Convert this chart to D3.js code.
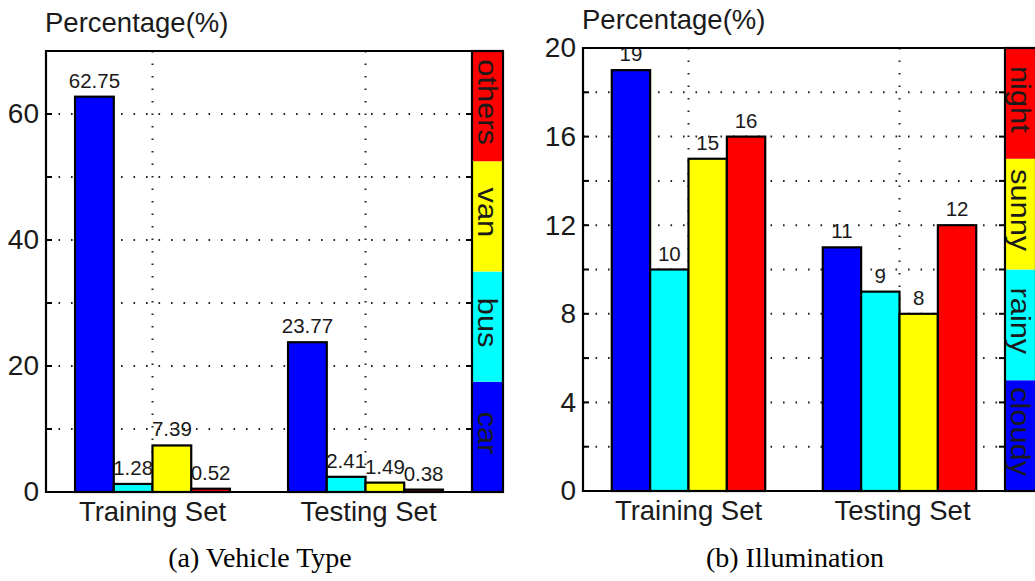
<!DOCTYPE html>
<html>
<head>
<meta charset="utf-8">
<script src="https://cdn.jsdelivr.net/npm/d3@7"></script>
<style>
  body { margin: 0; background: #fff; }
  svg text { font-family: "Liberation Sans", Arial, sans-serif; fill: #1a1a1a; }
  svg text.caption { font-family: "Liberation Serif", "Times New Roman", serif; fill: #000; }
</style>
</head>
<body>
<svg id="chart" width="1035" height="581"></svg>
<script>
// groups on the x axis
var groups = ["Training Set", "Testing Set"];

// (a) vehicle type
var vehicleTypes = ["car", "bus", "van", "others"];
var vehicleTrain = [62.75, 1.28, 7.39, 0.52];
var vehicleTest = [23.77, 2.41, 1.49, 0.38];
var vehicleTickLabels = [0, 20, 40, 60];
var vehicleGrid = [10, 20, 30, 40, 50, 60];

// (b) illumination
var illumTypes = ["cloudy", "rainy", "sunny", "night"];
var illumTrain = [19, 10, 15, 16];
var illumTest = [11, 9, 8, 12];
var illumTickLabels = [0, 4, 8, 12, 16, 20];
var illumGrid = [2, 4, 6, 8, 10, 12, 14, 16, 18];

var barColors = ["#0000ff", "#00ffff", "#ffff00", "#ff0000"];

var svg = d3.select("#chart");

// one panel: bars + grid + colorbar legend
function drawPanel(opt) {
	var x = d3.scaleLinear().domain([0.5, 2.5]).range([opt.left, opt.right]);
	var y = d3.scaleLinear().domain([0, opt.ymax]).range([opt.bottom, opt.top]);
	var g = svg.append("g");

	// matlab style grouped bars
	var n = opt.types.length;
	var groupW = n / (n + 1.5);
	var barW = groupW / n;
	var bars = [];
	[opt.train, opt.test].forEach(function (vals, gi) {
		vals.forEach(function (v, i) {
			bars.push({ x0: gi + 1 - groupW / 2 + i * barW, v: v, i: i });
		});
	});

	// dotted grid
	g.selectAll(".hgrid").data(opt.grid).enter().append("line")
		.attr("x1", opt.left).attr("x2", opt.right)
		.attr("y1", function (d) { return y(d); })
		.attr("y2", function (d) { return y(d); })
		.attr("stroke", "#222").attr("stroke-width", 2)
		.attr("stroke-dasharray", "1.6,10.9");
	g.selectAll(".vgrid").data([1, 2]).enter().append("line")
		.attr("x1", function (d) { return x(d); })
		.attr("x2", function (d) { return x(d); })
		.attr("y1", opt.top).attr("y2", opt.bottom)
		.attr("stroke", "#222").attr("stroke-width", 2)
		.attr("stroke-dasharray", "1.6,10.9");

	// bars
	g.selectAll(".bar").data(bars).enter().append("rect")
		.attr("x", function (d) { return x(d.x0); })
		.attr("width", function (d) { return x(d.x0 + barW) - x(d.x0); })
		.attr("y", function (d) { return y(d.v); })
		.attr("height", function (d) { return y(0) - y(d.v); })
		.attr("fill", function (d) { return barColors[d.i]; })
		.attr("stroke", "#000").attr("stroke-width", 2.2);

	// value labels
	g.selectAll(".val").data(bars).enter().append("text")
		.attr("x", function (d) { return x(d.x0 + barW / 2); })
		.attr("y", function (d) { return y(d.v) - 9; })
		.attr("text-anchor", "middle")
		.attr("font-size", 20.5)
		.text(function (d) { return d.v; });

	// inward ticks on left and right edges
	var tk = opt.grid.concat([0, opt.ymax]);
	g.selectAll(".tl").data(tk).enter().append("line")
		.attr("x1", opt.left).attr("x2", opt.left + 6)
		.attr("y1", function (d) { return y(d); }).attr("y2", function (d) { return y(d); })
		.attr("stroke", "#000").attr("stroke-width", 2);
	g.selectAll(".tr").data(tk).enter().append("line")
		.attr("x1", opt.right - 6).attr("x2", opt.right)
		.attr("y1", function (d) { return y(d); }).attr("y2", function (d) { return y(d); })
		.attr("stroke", "#000").attr("stroke-width", 2);

	// box
	g.append("path")
		.attr("d", "M" + opt.right + "," + opt.top + "H" + opt.left + "V" + opt.bottom + "H" + opt.right)
		.attr("fill", "none").attr("stroke", "#000").attr("stroke-width", 2.2);

	// y tick labels
	g.append("g")
		.attr("transform", "translate(" + opt.left + ",0)")
		.call(d3.axisLeft(y).tickValues(opt.labels).tickSize(0).tickPadding(7))
		.call(function (a) {
			a.select(".domain").remove();
			a.selectAll("text").attr("font-size", 28).attr("fill", "#1a1a1a")
				.style("font-family", "'Liberation Sans', Arial, sans-serif");
		});

	// group labels
	g.selectAll(".cat").data(groups).enter().append("text")
		.attr("x", function (d, i) { return x(i + 1) + (i ? 3 : 0); })
		.attr("y", opt.bottom + 29)
		.attr("text-anchor", "middle")
		.attr("font-size", 27.5)
		.text(function (d) { return d; });

	// axis title
	g.append("text")
		.attr("x", opt.left - 1).attr("y", opt.top - 19)
		.attr("font-size", 27.5)
		.text("Percentage(%)");

	// colorbar
	var seg = (opt.bottom - opt.top) / n;
	var cb = g.append("g");
	opt.types.forEach(function (t, i) {
		var y0 = opt.bottom - (i + 1) * seg;
		cb.append("rect")
			.attr("x", opt.right).attr("y", y0)
			.attr("width", opt.cbW).attr("height", seg)
			.attr("fill", barColors[i]);
		cb.append("text")
			.attr("transform", "translate(" + (opt.right + opt.cbW / 2) + "," + (y0 + seg / 2 - 4) + ") rotate(90) scale(1.1,1)")
			.attr("text-anchor", "middle")
			.attr("dy", "0.35em")
			.attr("font-size", 28)
			.attr("fill", "#000")
			.text(t);
	});
	cb.append("rect")
		.attr("x", opt.right).attr("y", opt.top)
		.attr("width", opt.cbW).attr("height", opt.bottom - opt.top)
		.attr("fill", "none").attr("stroke", "#000").attr("stroke-width", 2.2);

	// caption
	svg.append("text")
		.attr("class", "caption")
		.attr("x", opt.capX).attr("y", 567)
		.attr("text-anchor", "middle")
		.attr("font-size", 28)
		.text(opt.caption);
}

drawPanel({
	left: 46, right: 472, top: 51, bottom: 492, ymax: 70, cbW: 31,
	types: vehicleTypes, train: vehicleTrain, test: vehicleTest,
	labels: vehicleTickLabels, grid: vehicleGrid,
	caption: "(a) Vehicle Type", capX: 260
});

drawPanel({
	left: 583, right: 1005, top: 48, bottom: 491, ymax: 20, cbW: 31,
	types: illumTypes, train: illumTrain, test: illumTest,
	labels: illumTickLabels, grid: illumGrid,
	caption: "(b) Illumination", capX: 795
});
</script>
</body>
</html>
